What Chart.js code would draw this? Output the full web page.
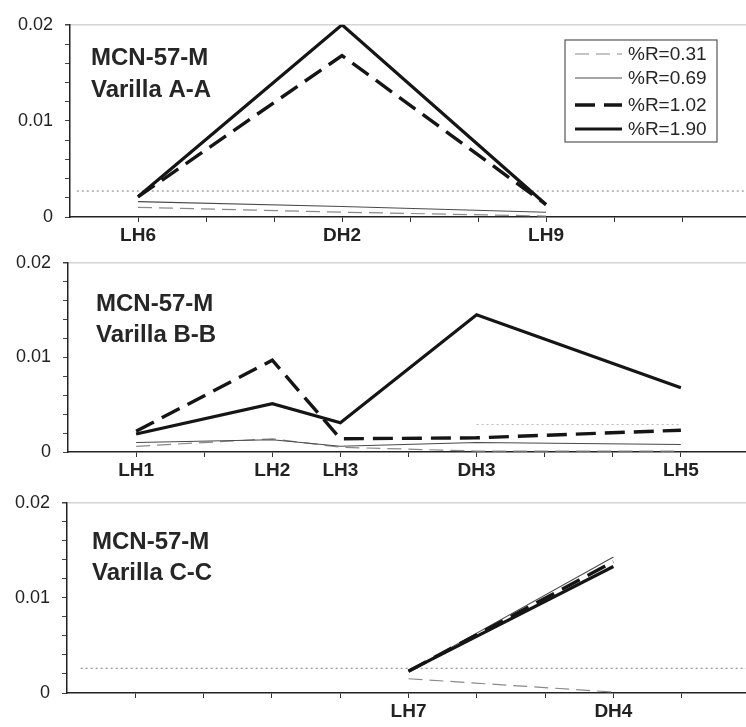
<!DOCTYPE html>
<html>
<head>
<meta charset="utf-8">
<title>MCN-57-M</title>
<script src="https://cdn.jsdelivr.net/npm/chart.js@4/dist/chart.umd.min.js"></script>
<style>
  html, body { margin: 0; padding: 0; background: #fff; }
  body { width: 746px; height: 727px; position: relative; overflow: hidden; }
  .panel { position: absolute; left: 0; }
</style>
</head>
<body>
<div class="panel" style="top:2px"><canvas id="chartA" width="746" height="245"></canvas></div>
<div class="panel" style="top:240px"><canvas id="chartB" width="746" height="242"></canvas></div>
<div class="panel" style="top:480px"><canvas id="chartC" width="746" height="243"></canvas></div>
<script>
// Series names (reflectance %R)
const seriesLabels = ['%R=0.31', '%R=0.69', '%R=1.02', '%R=1.90'];

// Varilla A-A
const catsA = ['LH6', 'DH2', 'LH9'];
const posA  = [1, 4, 7];
const r031A = [0.0010, 0.0005, 0.0001];
const r069A = [0.0016, 0.0011, 0.0005];
const r102A = [0.0021, 0.0168, 0.0013];
const r190A = [0.0021, 0.0200, 0.0013];

// Varilla B-B
const catsB = ['LH1', 'LH2', 'LH3', 'DH3', 'LH5'];
const posB  = [1, 3, 4, 6, 9];
const r031B = [0.0006, 0.0014, 0.0005, 0.0001, 0.0001];
const r069B = [0.0010, 0.0013, 0.0006, 0.0010, 0.0008];
const r102B = [0.0022, 0.0097, 0.0014, 0.0015, 0.0023];
const r190B = [0.0019, 0.0051, 0.0031, 0.0145, 0.0068];

// Varilla C-C
const catsC = ['LH7', 'DH4'];
const posC  = [5, 8];
const r031C = [0.0015, 0.0001];
const r069C = [0.0023, 0.0143];
const r102C = [0.0023, 0.0138];
const r190C = [0.0023, 0.0133];

// Reference (dotted) level per panel and its horizontal extent
const refLevel = [0.0027, 0.0029, 0.0026];
const refFrom  = [0.1, 6, 0.2];
const refTo    = [9.94, 9, 9.94];

// Y axis ticks
const yMin = 0, yMax = 0.02, yStep = 0.002;
const yLabelled = [0, 0.01, 0.02];

const FONT = '"Liberation Sans", Arial, sans-serif';

const seriesStyles = [
  { borderColor: '#8a8a8a', borderWidth: 1.2, borderDash: [14, 7], order: 4 },
  { borderColor: '#4a4a4a', borderWidth: 1.1, borderDash: [],      order: 3 },
  { borderColor: '#151515', borderWidth: 3.4, borderDash: [20, 9], order: 2 },
  { borderColor: '#151515', borderWidth: 3.2, borderDash: [],      order: 1 }
];

function pairs(pos, vals) {
  return pos.map((p, i) => ({ x: p, y: vals[i] }));
}

// Title text inside the plot
const titlePlugin = {
  id: 'panelTitle',
  afterDraw(chart, args, opts) {
    const ctx = chart.ctx, a = chart.chartArea;
    ctx.save();
    ctx.fillStyle = '#262626';
    ctx.font = 'bold 24px ' + FONT;
    ctx.textBaseline = 'alphabetic';
    ctx.textAlign = 'left';
    opts.lines.forEach((t, i) => ctx.fillText(t, a.left + opts.dx, a.top + opts.dy[i]));
    ctx.restore();
  }
};

// Boxed legend in the first panel
const boxLegendPlugin = {
  id: 'boxLegend',
  afterDraw(chart, args, opts) {
    if (!opts.show) return;
    const ctx = chart.ctx;
    ctx.save();
    ctx.strokeStyle = '#555';
    ctx.lineWidth = 1.2;
    ctx.strokeRect(opts.x1, opts.y1, opts.x2 - opts.x1, opts.y2 - opts.y1);
    ctx.font = '19px ' + FONT;
    ctx.fillStyle = '#262626';
    ctx.textBaseline = 'middle';
    ctx.textAlign = 'left';
    chart.data.datasets.filter(d => d.inLegend).forEach((d, i) => {
      const y = opts.rows[i];
      ctx.beginPath();
      ctx.strokeStyle = d.borderColor;
      ctx.lineWidth = d.borderWidth;
      ctx.setLineDash(d.borderDash || []);
      ctx.moveTo(opts.sx1, y);
      ctx.lineTo(opts.sx2, y);
      ctx.stroke();
      ctx.setLineDash([]);
      ctx.fillText(d.label, opts.tx, y + 1);
    });
    ctx.restore();
  }
};

function makeChart(id, cats, pos, series, panelIdx, left, xMax, title, legend) {
  const datasets = series.map((vals, i) => Object.assign({
    label: seriesLabels[i],
    data: pairs(pos, vals),
    pointRadius: 0,
    tension: 0,
    fill: false,
    inLegend: true
  }, seriesStyles[i]));
  datasets.push({
    label: 'ref',
    data: [{ x: refFrom[panelIdx], y: refLevel[panelIdx] }, { x: refTo[panelIdx], y: refLevel[panelIdx] }],
    borderColor: panelIdx === 1 ? '#b8b8b8' : '#7a7a7a',
    borderWidth: 1,
    borderDash: [2, 3],
    pointRadius: 0,
    order: 5,
    inLegend: false
  });

  return new Chart(document.getElementById(id), {
    type: 'line',
    data: { datasets },
    plugins: [titlePlugin, boxLegendPlugin],
    options: {
      responsive: false,
      animation: false,
      devicePixelRatio: 1,
      layout: { padding: { top: 13, right: 0, bottom: 0, left: 0 } },
      plugins: {
        legend: { display: false },
        tooltip: { enabled: false },
        panelTitle: title,
        boxLegend: legend
      },
      scales: {
        x: {
          type: 'linear',
          min: 0,
          max: xMax,
          afterFit(s) { s.height = 30; },
          afterBuildTicks(s) { s.ticks = [1, 2, 3, 4, 5, 6, 7, 8, 9].map(v => ({ value: v })); },
          grid: { color: 'rgba(0,0,0,0)', tickColor: '#333', tickLength: 5, drawOnChartArea: false },
          border: { color: '#222', width: 1.5 },
          ticks: {
            autoSkip: false,
            maxRotation: 0,
            padding: 2,
            color: '#222',
            font: { family: FONT, size: 19, weight: 'bold' },
            callback(v) {
              const k = pos.indexOf(Math.round(v));
              return (k >= 0 && Math.abs(pos[k] - v) < 1e-6) ? cats[k] : '';
            }
          }
        },
        y: {
          type: 'linear',
          min: yMin,
          max: yMax,
          afterFit(s) { s.width = left; },
          afterBuildTicks(s) {
            const n = Math.round((yMax - yMin) / yStep);
            const t = [];
            for (let i = 0; i <= n; i++) t.push({ value: +(yMin + i * yStep).toFixed(4) });
            s.ticks = t;
          },
          grid: {
            drawOnChartArea: true,
            color: c => (c.tick && Math.abs(c.tick.value - yMax) < 1e-9) ? '#d4d4d4' : 'rgba(0,0,0,0)',
            lineWidth: c => (c.tick && Math.abs(c.tick.value - yMax) < 1e-9) ? 1.5 : 1,
            tickColor: '#444',
            tickLength: 5
          },
          border: { color: '#222', width: 1.5 },
          ticks: {
            autoSkip: false,
            padding: 12,
            color: '#222',
            font: { family: FONT, size: 18 },
            callback(v) {
              const hit = yLabelled.find(l => Math.abs(l - v) < 1e-9);
              return hit === undefined ? '' : String(hit);
            }
          }
        }
      }
    }
  });
}

makeChart('chartA', catsA, posA, [r031A, r069A, r102A, r190A], 0, 70, 676 / 68,
  { lines: ['MCN-57-M', 'Varilla A-A'], dx: 21, dy: [40, 72] },
  { show: true, x1: 565, y1: 38, x2: 717, y2: 140, rows: [52, 76, 103, 127], sx1: 575, sx2: 622, tx: 628 });

makeChart('chartB', catsB, posB, [r031B, r069B, r102B, r190B], 1, 68, 678 / 68.1,
  { lines: ['MCN-57-M', 'Varilla B-B'], dx: 28, dy: [48, 79] },
  { show: false });

makeChart('chartC', catsC, posC, [r031C, r069C, r102C, r190C], 2, 67, 679 / 68.3,
  { lines: ['MCN-57-M', 'Varilla C-C'], dx: 25, dy: [46, 77] },
  { show: false });
</script>
</body>
</html>
